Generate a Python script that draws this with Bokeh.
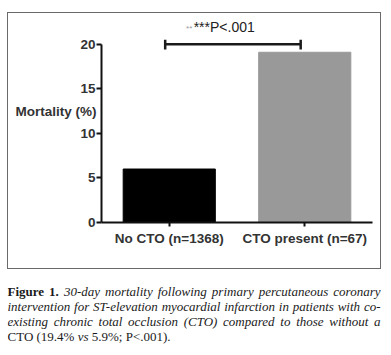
import glob
from bokeh.plotting import figure
from bokeh.models import FactorRange, Range1d, FixedTicker
from bokeh.layouts import column
from bokeh.core.properties import value
from bokeh.embed import file_html
from bokeh.resources import INLINE

# ---- data ----
categories = ["No CTO (n=1368)", "CTO present (n=67)"]
mortality = [6.0, 19.1]
bar_colors = ["#000000", "#999999"]
y_ticks = [0, 5, 10, 15, 20]
y_label = "Mortality (%)"
sig_text = "***P<.001"
sig_level = 20

# caption lines: list of (word, style)
caption_lines = [
    [("Figure", "bold"), ("1.", "bold"), ("30-day", "italic"), ("mortality", "italic"), ("following", "italic"),
     ("primary", "italic"), ("percutaneous", "italic"), ("coronary", "italic")],
    [(w, "italic") for w in "intervention for ST-elevation myocardial infarction in patients with co-".split()],
    [(w, "italic") for w in "existing chronic total occlusion (CTO) compared to those without a".split()],
    [("CTO", "normal"), ("(19.4%", "normal"), ("vs", "italic"), ("5.9%;", "normal"), ("P<.001).", "normal")],
]

SANS = "Liberation Sans"
SERIF = "Liberation Serif"
CAP_SIZE = 13

# ---- text measuring for the justified caption ----
try:
    from PIL import ImageFont
except Exception:
    ImageFont = None

_font_files = {"normal": "LiberationSerif-Regular.ttf", "italic": "LiberationSerif-Italic.ttf",
               "bold": "LiberationSerif-Bold.ttf"}
_fonts = {}
for st, fn in _font_files.items():
    hits = glob.glob("/usr/share/fonts/**/" + fn, recursive=True) + glob.glob("/usr/local/share/fonts/**/" + fn, recursive=True)
    if hits and ImageFont is not None:
        try:
            _fonts[st] = ImageFont.truetype(hits[0], CAP_SIZE)
        except Exception:
            pass

def measure(word, style):
    f = _fonts.get(style)
    if f is not None:
        return f.getlength(word)
    return len(word) * CAP_SIZE * 0.45

def space_w():
    f = _fonts.get("normal")
    return f.getlength(" ") if f is not None else CAP_SIZE * 0.25

# ---- chart ----
p = figure(x_range=FactorRange(*categories, range_padding=0), y_range=Range1d(0, 23),
           width=372, height=255, output_backend="svg", toolbar_location=None,
           min_border_left=93, min_border_right=8, min_border_top=4, min_border_bottom=46)
p.frame_align = False
p.outline_line_color = None
p.grid.visible = False

p.vbar(x=categories, top=mortality, width=0.68, fill_color=bar_colors, line_color=bar_colors)

for ax in (p.xaxis[0], p.yaxis[0]):
    ax.axis_line_width = 2
    ax.axis_line_color = "#111111"
    ax.major_tick_line_width = 2
    ax.major_tick_line_color = "#111111"
    ax.major_tick_in = 0
    ax.major_tick_out = 5
    ax.minor_tick_line_color = None
    ax.major_label_text_font = SANS
    ax.major_label_text_font_style = "bold"
    ax.major_label_text_font_size = "13.5px"
    ax.major_label_text_color = "#333333"

p.yaxis.bounds = (0, 20)
p.yaxis.ticker = FixedTicker(ticks=y_ticks)
p.yaxis.major_label_standoff = 1
p.yaxis.axis_label = y_label + "\n"
p.yaxis.axis_label_orientation = "horizontal"
p.yaxis.axis_label_standoff = -19
p.yaxis.axis_label_text_font = SANS
p.yaxis.axis_label_text_font_style = "bold"
p.yaxis.axis_label_text_font_size = "13.5px"
p.yaxis.axis_label_text_color = "#333333"
p.xaxis.major_tick_out = 4
p.xaxis.major_label_standoff = 4

# significance bracket
idx = list(range(len(categories)))
bx0 = idx[0] + 0.5 - 0.03
bx1 = idx[1] + 0.5 - 0.03
p.segment(x0=[bx0], y0=[sig_level], x1=[bx1], y1=[sig_level], line_color="#1a1a1a", line_width=2.5)
p.segment(x0=[bx0, bx1], y0=[sig_level - 0.6, sig_level - 0.6], x1=[bx0, bx1], y1=[sig_level + 0.5, sig_level + 0.5],
          line_color="#1a1a1a", line_width=2.5)
p.text(x=[0.68], y=[sig_level + 1.9], text=[sig_text], text_font=value(SANS), text_font_size="14px",
       text_align="left", text_baseline="middle", text_color="#222222")
p.text(x=[0.67], y=[sig_level + 1.8], text=["**"], text_font=value(SANS), text_font_size="8px",
       text_align="right", text_baseline="middle", text_color="#999999")

box = column(p, styles={"border": "1px solid #6a6a6a", "margin-top": "12px", "margin-left": "7px"})

# ---- caption (justified) ----
c = figure(width=375, height=78, x_range=Range1d(0, 375), y_range=Range1d(78, 0),
           output_backend="svg", toolbar_location=None, min_border=0)
c.frame_align = False
c.axis.visible = False
c.grid.visible = False
c.outline_line_color = None
c.styles = {"margin-left": "7px"}

cap_col = "#1a1a1a"
LINE_W = 373
line_y = [22, 37, 52, 67]
xs, ys, ts, sts = [], [], [], []
for i, words in enumerate(caption_lines):
    widths = [measure(w, s) for w, s in words]
    last = i == len(caption_lines) - 1
    if last or len(words) < 2:
        gap = space_w()
    else:
        gap = (LINE_W - sum(widths)) / (len(words) - 1)
    x = 0.0
    for (w, s), wd in zip(words, widths):
        xs.append(x); ys.append(line_y[i]); ts.append(w); sts.append(s)
        x += wd + gap

for st in ("normal", "italic", "bold"):
    sel = [k for k in range(len(ts)) if sts[k] == st]
    c.text(x=[xs[k] for k in sel], y=[ys[k] for k in sel], text=[ts[k] for k in sel],
           text_font=value(SERIF), text_font_size=f"{CAP_SIZE}px", text_font_style=st,
           text_align="left", text_baseline="middle", text_color=cap_col)

layout = column(box, c, spacing=0)
open("out.html", "w").write(file_html(layout, INLINE))
